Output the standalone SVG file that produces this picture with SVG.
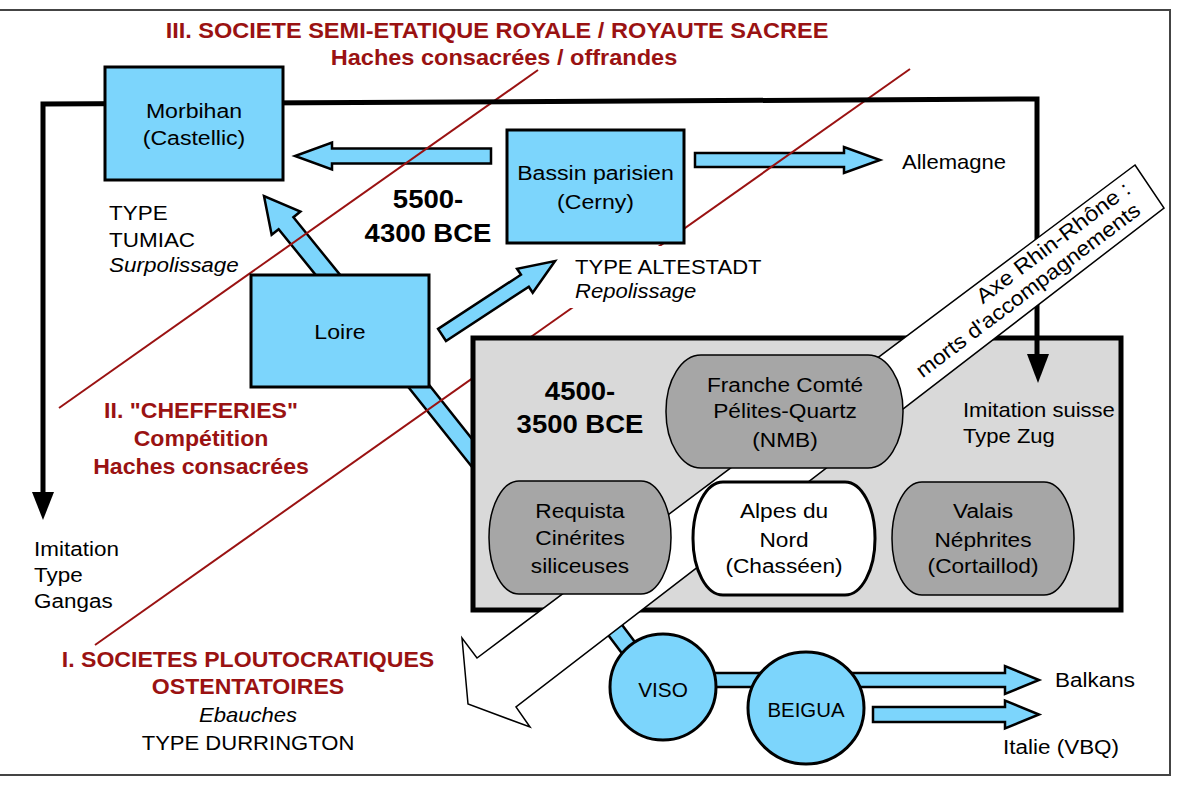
<svg xmlns="http://www.w3.org/2000/svg" width="1181" height="785" viewBox="0 0 1181 785">
<defs>
<style>
text{font-family:"Liberation Sans",Arial,Helvetica,sans-serif;font-size:21px;fill:#000}
.c{text-anchor:middle}
.e{text-anchor:end}
.i{font-style:italic}
.b{font-weight:bold}
.red{font-weight:bold;font-size:22px;fill:#9a1212}
.date{font-weight:bold;font-size:25px}
.blue{fill:#7cd5fc;stroke:#000;stroke-width:3}
.arr{fill:#7cd5fc;stroke:#000;stroke-width:2.5;stroke-linejoin:miter}
.zone{stroke:#9a1212;stroke-width:2;fill:none}
.node{fill:#a6a6a6;stroke:#000;stroke-width:1.5}
.blk{fill:none;stroke:#000;stroke-width:5;stroke-linejoin:miter}
</style>
</defs>
<rect id="frame" x="-3" y="10" width="1173" height="765" fill="#fff" stroke="#444" stroke-width="2"/>

<g id="connectors">
<polygon class="arr" points="399.5,376 422,376 476,444 476,472"/>
<polygon class="arr" transform="translate(264,196) rotate(-129)" points="-125,-9.5 -35,-9.5 -35,-18.5 0,0 -35,18.5 -35,9.5 -125,9.5"/>
<polygon class="arr" transform="translate(295,156) rotate(180)" points="-196,-7.5 -37,-7.5 -37,-13.5 0,0 -37,13.5 -37,7.5 -196,7.5"/>
<polygon class="arr" transform="translate(880,160)" points="-185,-7 -36,-7 -36,-13 0,0 -36,13 -36,7 -185,7"/>
<polygon class="arr" transform="translate(555,261) rotate(-33.2)" points="-135,-7.2 -36,-7.2 -36,-14.3 0,0 -36,14.3 -36,7.2 -135,7.2"/>
<polygon class="arr" transform="translate(1039,680)" points="-376,-7 -34,-7 -34,-14 0,0 -34,14 -34,7 -376,7"/>
<polygon class="arr" transform="translate(1039,714.5)" points="-166,-7.5 -34,-7.5 -34,-14 0,0 -34,14 -34,7.5 -166,7.5"/>
<polygon class="arr" points="614.8,615.2 646.8,657.8 633.2,668.2 601.2,625.8"/>
</g>

<g id="zones">
<line class="zone" x1="538" y1="70" x2="59" y2="408"/>
<line class="zone" x1="910" y1="69" x2="95" y2="645"/>
</g>
<rect x="568" y="246" width="197" height="62" fill="#fff"/>

<g id="node-grey-box">
<rect x="473" y="338" width="648" height="272" fill="#d9d9d9" stroke="#000" stroke-width="5"/>
<text class="date c" transform="translate(580,400) scale(1.1,1)"><tspan x="0">4500-</tspan><tspan x="0" dy="33">3500 BCE</tspan></text>
</g>

<g id="connectors-main">
<polyline class="blk" points="1037,355 1037,99 43,104 43,495"/>
<polygon points="32,492 54,492 43,520" fill="#000"/>
<polygon points="1027,354 1049,354 1038,383" fill="#000"/>
</g>

<g id="node-morbihan">
<rect class="blue" x="105" y="67" width="178" height="113"/>
<text class="c" transform="translate(194,118) scale(1.1,1)"><tspan x="0">Morbihan</tspan><tspan x="0" dy="27">(Castellic)</tspan></text>
</g>
<g id="node-bassin">
<rect class="blue" x="507" y="130" width="177" height="113"/>
<text class="c" transform="translate(595.5,180) scale(1.1,1)"><tspan x="0">Bassin parisien</tspan><tspan x="0" dy="29">(Cerny)</tspan></text>
</g>
<g id="node-loire">
<rect class="blue" x="251" y="275" width="178" height="112"/>
<text class="c" transform="translate(340,339) scale(1.1,1)">Loire</text>
</g>

<g id="axe-rhin-rhone">
<polygon points="1135,165 1164,208 516,707 530,727 468,704 462,638 477,658" fill="#fff" stroke="#000" stroke-width="1.5" stroke-linejoin="miter"/>
<text class="e" transform="translate(1132,192) rotate(-37)" textLength="187" lengthAdjust="spacingAndGlyphs">Axe Rhin-Rhône :</text>
<text class="e" transform="translate(1142,213) rotate(-37)" textLength="275" lengthAdjust="spacingAndGlyphs">morts d'accompagnements</text>
</g>

<g id="node-franche-comte">
<rect class="node" x="666" y="355" width="237" height="113" rx="35" ry="56"/>
<text class="c" transform="translate(785,392) scale(1.08,1)"><tspan x="0">Franche Comté</tspan><tspan x="0" dy="26.5">Pélites-Quartz</tspan><tspan x="0" dy="28.5">(NMB)</tspan></text>
</g>
<g id="node-requista">
<rect class="node" x="489" y="481" width="182" height="113" rx="30" ry="56"/>
<text class="c" transform="translate(580,518) scale(1.08,1)"><tspan x="0">Requista</tspan><tspan x="0" dy="27">Cinérites</tspan><tspan x="0" dy="28">siliceuses</tspan></text>
</g>
<g id="node-alpes">
<rect x="693" y="482" width="182" height="113" rx="30" ry="56" fill="#fff" stroke="#000" stroke-width="3"/>
<text class="c" transform="translate(784,518) scale(1.08,1)"><tspan x="0">Alpes du</tspan><tspan x="0" dy="29">Nord</tspan><tspan x="0" dy="26">(Chasséen)</tspan></text>
</g>
<g id="node-valais">
<rect class="node" x="892" y="482" width="182" height="113" rx="30" ry="56"/>
<text class="c" transform="translate(983,518) scale(1.08,1)"><tspan x="0">Valais</tspan><tspan x="0" dy="29">Néphrites</tspan><tspan x="0" dy="26">(Cortaillod)</tspan></text>
</g>

<g id="node-viso">
<circle cx="663" cy="687" r="53" fill="#7cd5fc" stroke="#000" stroke-width="3"/>
<text class="c" transform="translate(663,697) scale(1.04,1)" style="font-size:20px">VISO</text>
</g>
<g id="node-beigua">
<ellipse cx="806" cy="708" rx="58" ry="56" fill="#7cd5fc" stroke="#000" stroke-width="3"/>
<text class="c" transform="translate(806,717) scale(1.02,1)" style="font-size:20px">BEIGUA</text>
</g>

<g id="labels">
<text class="red c" transform="translate(497,38) scale(1.07,1)">III. SOCIETE SEMI-ETATIQUE ROYALE / ROYAUTE SACREE</text>
<text class="red c" transform="translate(504,65) scale(1.07,1)">Haches consacrées / offrandes</text>
<text transform="translate(109,220) scale(1.07,1)"><tspan x="0">TYPE</tspan><tspan x="0" dy="27">TUMIAC</tspan><tspan x="0" dy="25" class="i">Surpolissage</tspan></text>
<text class="date c" transform="translate(428,208) scale(1.1,1)"><tspan x="0">5500-</tspan><tspan x="0" dy="34">4300 BCE</tspan></text>
<text transform="translate(902,169) scale(1.05,1)">Allemagne</text>
<text transform="translate(575,274) scale(1.05,1)"><tspan x="0">TYPE ALTESTADT</tspan><tspan x="0" dy="24" class="i">Repolissage</tspan></text>
<text class="red c" transform="translate(201,418) scale(1.05,1)"><tspan x="0">II. "CHEFFERIES"</tspan><tspan x="0" dy="28">Compétition</tspan><tspan x="0" dy="28">Haches consacrées</tspan></text>
<text transform="translate(34,556) scale(1.07,1)"><tspan x="0">Imitation</tspan><tspan x="0" dy="26">Type</tspan><tspan x="0" dy="26">Gangas</tspan></text>
<text class="c" transform="translate(248,667) scale(1.05,1)"><tspan x="0" class="red">I. SOCIETES PLOUTOCRATIQUES</tspan><tspan x="0" dy="27" class="red">OSTENTATOIRES</tspan><tspan x="0" dy="28" class="i">Ebauches</tspan><tspan x="0" dy="28">TYPE DURRINGTON</tspan></text>
<text transform="translate(963,417) scale(1.05,1)"><tspan x="0">Imitation suisse</tspan><tspan x="0" dy="26">Type Zug</tspan></text>
<text transform="translate(1055,687) scale(1.07,1)">Balkans</text>
<text transform="translate(1003,754) scale(1.07,1)">Italie (VBQ)</text>
</g>
</svg>
